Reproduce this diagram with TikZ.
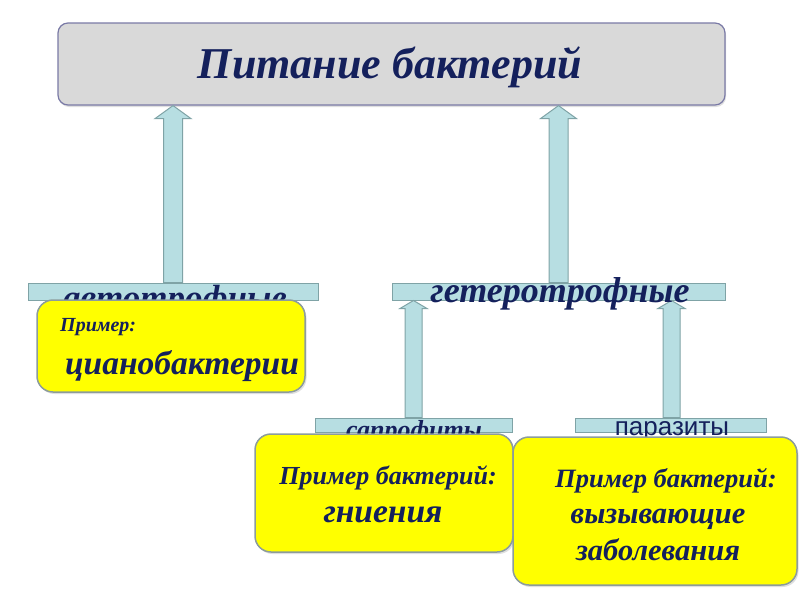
\documentclass[tikz,border=0pt]{standalone}
\usepackage{fontspec}
\setmainfont{Liberation Serif}
\newfontfamily\sansf{Liberation Sans}
\usetikzlibrary{calc,shadows}
\definecolor{navy}{HTML}{14205C}
\definecolor{titlefill}{HTML}{D9D9D9}
\definecolor{titleline}{HTML}{7A7AA6}
\definecolor{arrfill}{HTML}{B7DEE2}
\definecolor{arrline}{HTML}{7FA3A6}
\definecolor{boxline}{HTML}{8C9C9C}
\definecolor{yel}{HTML}{FFFF00}
\tikzset{
  titlebox/.style={draw=titleline,line width=1.2pt,fill=titlefill,rounded corners=10pt,inner sep=0pt,
    drop shadow={opacity=0.25,shadow xshift=1pt,shadow yshift=-2pt}},
  barbox/.style={draw=arrline,line width=1pt,fill=arrfill,inner sep=0pt},
  arrowsty/.style={draw=arrline,line width=1pt,fill=arrfill,line join=miter},
  yelbox/.style={draw=boxline,line width=1.5pt,fill=yel,rounded corners=16pt,inner sep=0pt,
    drop shadow={opacity=0.25,shadow xshift=1.5pt,shadow yshift=-2pt}},
  lbl/.style={text=navy,inner sep=0pt,font=\bfseries\itshape},
}
\newcommand\fatarr[5]{%
  \draw[arrowsty] let \p1=(#1), \p2=(#2) in
    (\x1-#3pt,\y1) -- (\x1-#3pt,\y2-#5pt) -- (\x1-#4pt,\y2-#5pt) -- (\x2,\y2)
    -- (\x1+#4pt,\y2-#5pt) -- (\x1+#3pt,\y2-#5pt) -- (\x1+#3pt,\y1) -- cycle;}
\begin{document}
\begin{tikzpicture}[x=1pt,y=-1pt]
\useasboundingbox (0,0) rectangle (800,600);
% title
\node[titlebox,minimum width=667pt,minimum height=82pt] (title) at (391.5,64) {};
\node[lbl,font=\fontsize{44}{50}\selectfont\bfseries\itshape] (titletxt) at (390,67) {Питание бактерий};
% arrow x positions
\coordinate (a1) at (173,0);
\coordinate (a2) at (558.5,0);
\coordinate (a3) at (413.5,0);
\coordinate (a4) at (671.5,0);
% bars level 1
\node[barbox,minimum width=290pt,minimum height=17pt] (auto) at (173,291.5) {};
\node[barbox,minimum width=333pt,minimum height=17pt] (hetero) at (558.5,291.5) {};
\fatarr{a1 |- auto.north}{a1 |- title.south}{9.5}{18}{13}
\fatarr{a2 |- hetero.north}{a2 |- title.south}{9.5}{18}{13}
% bars level 2
\node[barbox,minimum width=197pt,minimum height=14pt] (sap) at (413.5,425) {};
\node[barbox,minimum width=191pt,minimum height=14pt] (par) at (670.5,425) {};
\fatarr{a3 |- sap.north}{a3 |- hetero.south}{8.5}{13.5}{8}
\fatarr{a4 |- par.north}{a4 |- hetero.south}{8.5}{13.5}{8}
% bar texts
\node[lbl,font=\fontsize{35}{40}\selectfont\bfseries\itshape] (autotxt) at (175,301) {автотрофные};
\node[lbl,font=\fontsize{36}{40}\selectfont\bfseries\itshape] (heterotxt) at (560,294) {гетеротрофные};
\node[lbl,font=\fontsize{26}{30}\selectfont\bfseries\itshape] (saptxt) at (414,432) {сапрофиты};
\node[text=navy,inner sep=0pt,font=\fontsize{26}{30}\selectfont\sansf] (partxt) at (672,431) {паразиты};
% yellow boxes
\node[yelbox,minimum width=268pt,minimum height=92pt] (box1) at (171,346) {};
\node[lbl,anchor=west,font=\fontsize{20}{24}\selectfont\bfseries\itshape] (b1a) at (60,327) {Пример:};
\node[lbl,font=\fontsize{33.5}{38}\selectfont\bfseries\itshape] (b1b) at (182,366) {цианобактерии};
\node[yelbox,minimum width=258pt,minimum height=118pt] (box2) at (384,493) {};
\node[lbl,font=\fontsize{26}{30}\selectfont\bfseries\itshape] (b2a) at (388,478) {Пример бактерий:};
\node[lbl,font=\fontsize{33.5}{38}\selectfont\bfseries\itshape] (b2b) at (383,515) {гниения};
\node[yelbox,minimum width=284pt,minimum height=148pt] (box3) at (655,511) {};
\node[lbl,font=\fontsize{26.5}{30}\selectfont\bfseries\itshape] (b3a) at (666,481) {Пример бактерий:};
\node[lbl,font=\fontsize{30.5}{34}\selectfont\bfseries\itshape] (b3b) at (658,519) {вызывающие};
\node[lbl,font=\fontsize{30.5}{34}\selectfont\bfseries\itshape] (b3c) at (658,550) {заболевания};
\end{tikzpicture}
\end{document}
